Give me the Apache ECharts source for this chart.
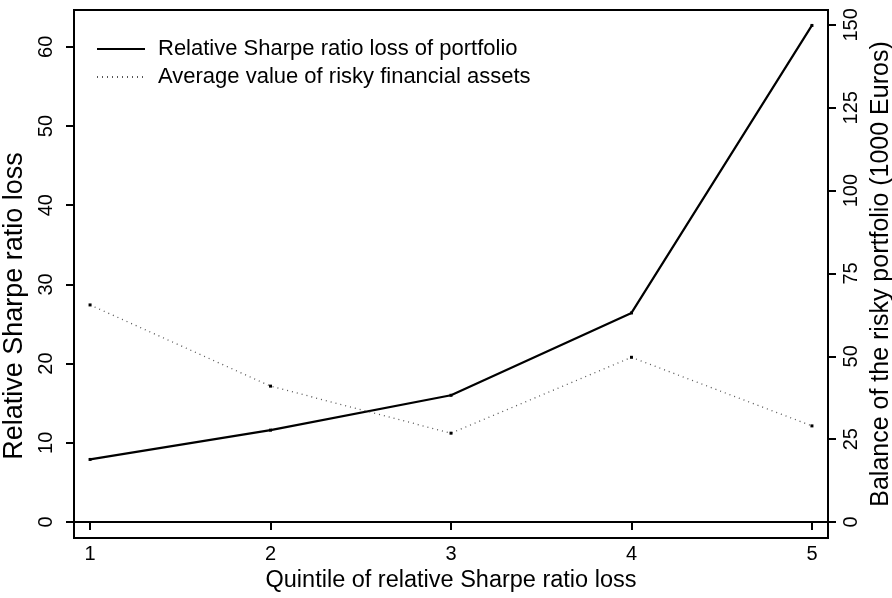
<!DOCTYPE html>
<html>
<head>
<meta charset="utf-8">
<script src="https://cdn.jsdelivr.net/npm/echarts@6/dist/echarts.min.js"></script>
<style>html,body{margin:0;padding:0;background:#fff}#c{width:892px;height:598px}</style>
</head>
<body>
<div id="c"></div>
<script>
var quintiles = [1, 2, 3, 4, 5];
var sharpeLoss = [7.9, 11.6, 16.0, 26.4, 62.7];
var riskyAssets = [65.5, 41.0, 26.8, 49.7, 29.0];
var leftTicks = [0, 10, 20, 30, 40, 50, 60];
var rightTicks = [0, 25, 50, 75, 100, 125, 150];
var seriesNames = ['Relative Sharpe ratio loss of portfolio', 'Average value of risky financial assets'];

var FONT = '"Liberation Sans", Arial, sans-serif';
var chart = echarts.init(document.getElementById('c'), null, {renderer: 'canvas'});
chart.setOption({
  animation: false,
  backgroundColor: '#fff',
  textStyle: {fontFamily: FONT, color: '#000'},
  grid: {left: 74, right: 64, top: 10, bottom: 60, show: true, borderColor: '#000', borderWidth: 2,
         containLabel: false, outerBoundsMode: 'none'},
  legend: {
    orient: 'vertical', left: 91, top: 33, itemWidth: 48, itemHeight: 14, itemGap: 6,
    itemStyle: {opacity: 0},
    textStyle: {fontSize: 22, fontFamily: FONT, color: '#000', padding: [0, 0, 0, 8]},
    data: seriesNames
  },
  xAxis: {
    type: 'value', min: 0.911, max: 5.089,
    name: 'Quintile of relative Sharpe ratio loss', nameLocation: 'middle', nameGap: 30,
    nameTextStyle: {fontSize: 23.5, fontFamily: FONT, color: '#000'},
    axisLine: {show: true, lineStyle: {color: '#000', width: 2}},
    axisTick: {show: true, length: 8, customValues: quintiles, lineStyle: {color: '#000', width: 2}},
    axisLabel: {customValues: quintiles, fontSize: 20, color: '#000', margin: 6, fontFamily: FONT},
    splitLine: {show: false}
  },
  yAxis: [{
    type: 'value', min: -2.02, max: 64.65, position: 'left',
    name: 'Relative Sharpe ratio loss', nameLocation: 'middle', nameGap: 38,
    nameTextStyle: {fontSize: 27, fontFamily: FONT, color: '#000', padding: [0, 64, 0, 0]},
    axisLine: {show: true, lineStyle: {color: '#000', width: 2}},
    axisTick: {show: true, length: 8, customValues: leftTicks, lineStyle: {color: '#000', width: 2}},
    axisLabel: {customValues: leftTicks, rotate: 90, fontSize: 20, color: '#000', margin: 18, fontFamily: FONT},
    splitLine: {show: false}
  }, {
    type: 'value', min: -4.83, max: 154.5, position: 'right',
    name: 'Balance of the risky portfolio (1000 Euros)', nameLocation: 'middle', nameGap: 39, nameRotate: 90,
    nameTextStyle: {fontSize: 25, fontFamily: FONT, color: '#000'},
    axisLine: {show: true, lineStyle: {color: '#000', width: 2}},
    axisTick: {show: true, length: 8, customValues: rightTicks, lineStyle: {color: '#000', width: 2}},
    axisLabel: {customValues: rightTicks, rotate: 90, fontSize: 20, color: '#000', margin: 13, fontFamily: FONT},
    splitLine: {show: false}
  }],
  series: [{
    name: seriesNames[0], type: 'line', yAxisIndex: 0,
    data: quintiles.map(function (q, i) { return [q, sharpeLoss[i]]; }),
    symbol: 'rect', symbolSize: 3, showSymbol: true,
    itemStyle: {color: '#000'},
    lineStyle: {color: '#000', width: 2.2, type: 'solid'}
  }, {
    name: seriesNames[1], type: 'line', yAxisIndex: 1,
    data: quintiles.map(function (q, i) { return [q, riskyAssets[i]]; }),
    symbol: 'rect', symbolSize: 3, showSymbol: true,
    itemStyle: {color: '#000'},
    lineStyle: {color: '#555', width: 1.3, type: [1, 4]}
  }]
});
</script>
</body>
</html>
